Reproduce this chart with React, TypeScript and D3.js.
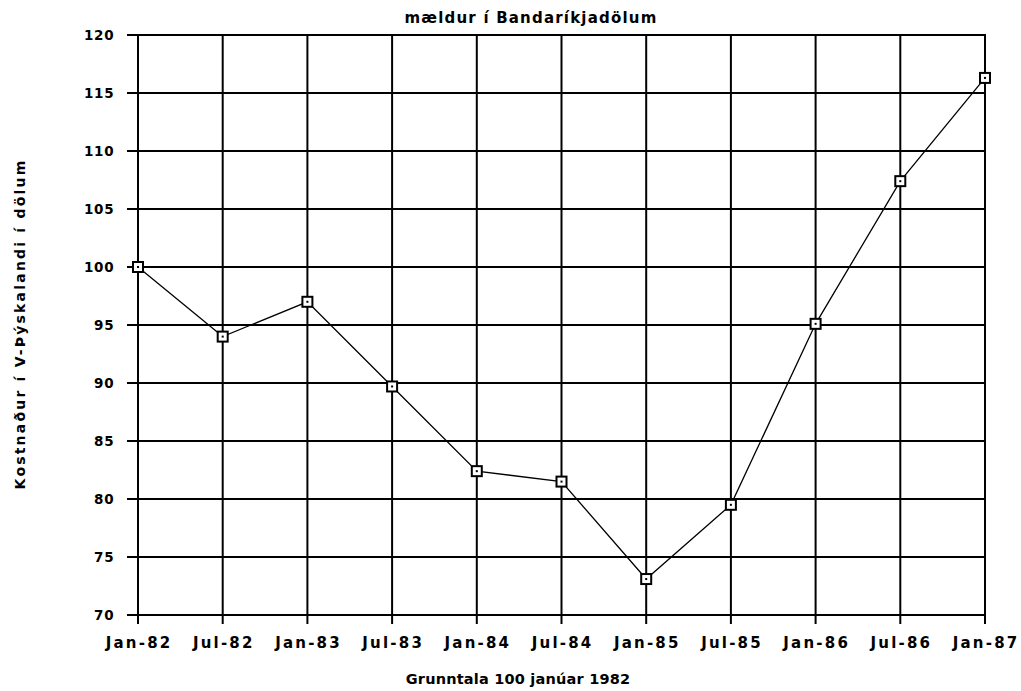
import React from "react";
import * as d3 from "d3";

const categories = ["Jan-82", "Jul-82", "Jan-83", "Jul-83", "Jan-84", "Jul-84", "Jan-85", "Jul-85", "Jan-86", "Jul-86", "Jan-87"];
const values = [100, 94, 97, 89.7, 82.4, 81.5, 73.1, 79.5, 95.1, 107.4, 116.3];
const yTicks = [70, 75, 80, 85, 90, 95, 100, 105, 110, 115, 120];

const title = "mældur í Bandaríkjadölum";
const yTitle = "Kostnaður í V-Þýskalandi í dölum";
const xTitle = "Grunntala 100 janúar 1982";

export default function App() {
  const W = 1021, H = 691;
  const left = 138, right = 985, top = 35, bottom = 615;
  const x = d3.scalePoint<string>().domain(categories).range([left, right]);
  const y = d3.scaleLinear().domain([70, 120]).range([bottom, top]);
  const line = d3.line<number>().x((_, i) => x(categories[i])!).y((d) => y(d));
  const font = "'DejaVu Sans', sans-serif";
  return (
    <svg width={W} height={H} style={{ position: "absolute", left: 0, top: 0 }}>
      <rect width={W} height={H} fill="#fff" />
      {yTicks.map((t) => (
        <g key={t}>
          <line x1={left - 11} x2={right + 1} y1={y(t)} y2={y(t)} stroke="#000" strokeWidth={2} />
          <text x={114.5} y={y(t)} dy="0.36em" textAnchor="end" fontFamily={font} fontSize={13.5} fontWeight="bold" letterSpacing={0.8}>{t}</text>
        </g>
      ))}
      {categories.map((c) => (
        <g key={c}>
          <line x1={x(c)} x2={x(c)} y1={top} y2={bottom + 9} stroke="#000" strokeWidth={2} />
          <text x={x(c)! + 1.1} y={643} dy="0.36em" textAnchor="middle" fontFamily={font} fontSize={15} fontWeight="bold" letterSpacing={2.2}>{c}</text>
        </g>
      ))}
      <path d={line(values) || ""} fill="none" stroke="#000" strokeWidth={1.3} />
      {values.map((v, i) => (
        <g key={i}>
          <rect x={x(categories[i])! - 5} y={y(v) - 5} width={10} height={10} fill="#fff" stroke="#000" strokeWidth={2} />
          <rect x={x(categories[i])! - 1} y={y(v) - 1} width={2} height={2} fill="#000" />
        </g>
      ))}
      <text x={531} y={18} dy="0.36em" textAnchor="middle" fontFamily={font} fontSize={15} fontWeight="bold" letterSpacing={1.2}>{title}</text>
      <text x={518} y={679} dy="0.36em" textAnchor="middle" fontFamily={font} fontSize={14.5} fontWeight="bold" letterSpacing={0.2}>{xTitle}</text>
      <text transform={`translate(20,${324}) rotate(-90)`} dy="0.36em" textAnchor="middle" fontFamily={font} fontSize={14} fontWeight="bold" letterSpacing={2.2}>{yTitle}</text>
    </svg>
  );
}
